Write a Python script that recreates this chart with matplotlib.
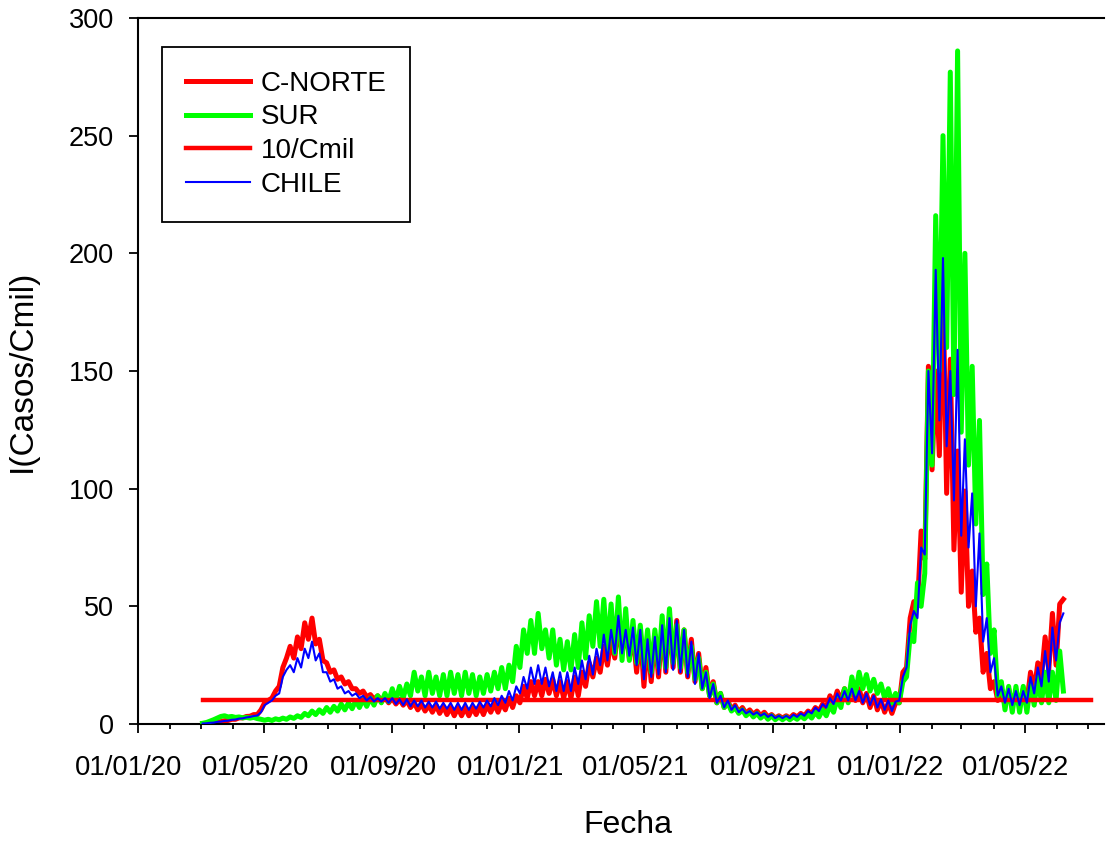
import datetime as dt
import matplotlib
matplotlib.use("Agg")
import matplotlib.pyplot as plt
import matplotlib.dates as mdates
import matplotlib.transforms as mtransforms

plt.rcParams['font.family'] = ['Liberation Sans', 'DejaVu Sans']

# ---- data (half-weekly readings, start 03/03/2020, every 3.5 days) ----
start_date = dt.datetime(2020, 3, 3)
step_days = 3.5

cnorte = [0.2, 0.3, 0.5, 0.6, 0.9, 1.0, 1.4, 1.5, 2.0, 2.0, 2.6, 2.6, 3.2, 3.3, 4.0, 4.0,
          6, 9, 10, 11, 14, 16, 24, 28,
          33, 28, 37, 32, 43, 36, 45, 34,
          36, 27, 26, 22, 23, 19, 20, 17,
          18, 15, 15, 13, 14, 11.5, 12.5, 10.5,
          12, 10, 11.5, 9, 11, 8.5, 10.5, 8,
          10, 7, 9, 6, 8.5, 5.5, 8, 5,
          8, 4.5, 7.5, 4, 7, 3.5, 7, 3.5,
          7, 3.5, 7, 4, 7.5, 4, 8, 5,
          8.5, 5, 9, 6, 11, 7, 12, 9,
          16, 11, 18, 12, 18, 12, 19, 13,
          19, 12, 18, 11, 18, 11, 20, 12,
          22, 16, 26, 20, 28, 22, 33, 25,
          36, 28, 42, 30, 40, 28, 38, 22,
          40, 16, 36, 18, 38, 20, 42, 22,
          46, 24, 44, 22, 40, 20, 36, 18,
          30, 15, 24, 12, 18, 9, 13, 7,
          10, 6, 8, 5, 7, 4.5, 6, 4,
          5.5, 3.5, 5, 3, 4, 2.5, 3.5, 2.5,
          3.5, 2.5, 4, 3, 4.5, 3.5, 5.5, 4.5,
          7, 5.5, 8.5, 7, 12, 9, 14, 10,
          15, 10, 16, 10, 15, 9, 13, 7,
          12, 6, 10, 5, 9, 4.5, 9, 9,
          22, 24, 45, 52, 50, 82, 70, 152,
          108, 150, 114, 186, 98, 155, 74, 116,
          56, 99, 50, 65, 39, 45, 22, 30,
          15, 18, 10, 15, 8, 15, 8, 14,
          8, 15, 9, 22, 14, 26, 20, 37,
          23, 47, 25, 51, 53]

sur = [0.3, 0.6, 1.2, 1.8, 2.5, 3.2, 3.5, 3.0, 3.2, 2.8, 3.0, 2.6, 2.8, 2.5, 2.8, 2.3,
       2.0, 1.6, 2.0, 1.5, 2.2, 1.8, 2.5, 2.0,
       3.0, 2.4, 3.5, 2.8, 4.5, 3.5, 5.5, 4,
       6, 4.5, 7, 5, 7.5, 5.5, 8.5, 6,
       9, 6.5, 10, 7, 10.5, 7.5, 11, 8,
       12, 9, 13, 9.5, 15, 10, 16, 11,
       17, 12, 22, 14, 20, 12, 22, 13,
       20, 12, 21, 12, 22, 13, 21, 12,
       22, 13, 21, 12, 20, 13, 21, 14,
       22, 15, 24, 15, 25, 18, 33, 24,
       40, 30, 44, 30, 47, 32, 40, 28,
       40, 25, 36, 23, 35, 23, 38, 24,
       43, 28, 46, 33, 52, 33, 53, 31,
       51, 30, 54, 27, 49, 27, 44, 26,
       42, 24, 40, 22, 40, 24, 46, 24,
       49, 26, 42, 24, 40, 22, 33, 19,
       28, 15, 22, 12, 17, 9, 13, 7,
       9, 5.5, 7, 4.5, 6, 3.5, 5, 3,
       4.5, 2.5, 4, 2, 3.5, 1.8, 3, 1.8,
       3, 1.8, 3, 2, 3.5, 2.2, 4, 2.5,
       5, 3, 6, 3.5, 8, 5, 11, 7,
       15, 9, 20, 13, 22, 15, 21, 14,
       19, 13, 17, 11, 15, 9, 13, 9,
       18, 20, 38, 35, 60, 50, 64, 150,
       110, 216, 150, 250, 160, 277, 140, 286,
       124, 200, 110, 152, 85, 129, 55, 68,
       30, 40, 12, 18, 6, 16, 5, 16,
       5, 16, 5, 17, 8, 20, 9, 22,
       9, 22, 10, 31, 14]

chile = [0.2, 0.3, 0.5, 0.6, 0.9, 1.0, 1.3, 1.4, 1.8, 1.9, 2.3, 2.4, 2.8, 3.0, 3.4, 3.6,
         5, 8, 9, 10, 12, 13, 20, 23,
         25, 22, 28, 24, 32, 28, 35, 27,
         30, 22, 22, 18, 19, 15, 16, 13,
         14, 12, 13, 11, 12, 10, 11.5, 9.5,
         11, 9.5, 11, 9, 11, 8.5, 10.5, 8,
         10.5, 7.5, 10, 7.5, 10, 7, 9.5, 7,
         9.5, 6.5, 9, 6.5, 9, 6, 9, 6,
         9, 6, 9, 6.5, 9.5, 7, 10, 7.5,
         11, 8, 12, 9, 14, 10, 16, 13,
         20, 15, 24, 17, 25, 17, 24, 16,
         22, 14, 22, 14, 22, 14, 24, 17,
         27, 19, 29, 21, 32, 25, 38, 27,
         40, 30, 46, 30, 40, 29, 41, 25,
         40, 19, 36, 20, 37, 21, 42, 22,
         45, 23, 44, 22, 40, 20, 35, 17,
         30, 15, 22, 11, 17, 9, 12, 7,
         10, 6, 8, 5, 6.5, 4.5, 5.5, 4,
         5, 3.5, 4.5, 3, 4, 2.5, 3.5, 2.5,
         3.5, 2.5, 4, 3, 4.5, 3.5, 5.5, 4.5,
         7, 5.5, 8.5, 7, 11, 8.5, 13, 10,
         14, 10, 15, 10, 14, 9, 13, 8,
         12, 7, 10.5, 6, 10, 5.5, 9.5, 10,
         20, 24, 42, 48, 45, 75, 72, 150,
         115, 193, 129, 198, 118, 150, 95, 159,
         80, 121, 75, 98, 50, 81, 35, 45,
         22, 28, 12, 16, 9, 15, 8, 14,
         8, 14, 9, 20, 13, 24, 16, 31,
         18, 41, 27, 43, 47]

threshold_value = 10
threshold_dates = [dt.datetime(2020, 3, 3), dt.datetime(2022, 7, 4)]

tick_dates = [dt.datetime(2020, 1, 1), dt.datetime(2020, 5, 1), dt.datetime(2020, 9, 1),
              dt.datetime(2021, 1, 1), dt.datetime(2021, 5, 1), dt.datetime(2021, 9, 1),
              dt.datetime(2022, 1, 1), dt.datetime(2022, 5, 1)]
y_ticks = [0, 50, 100, 150, 200, 250, 300]

dates = [start_date + dt.timedelta(days=step_days * i) for i in range(len(cnorte))]

# ---- figure ----
W, H = 1107, 842
fig = plt.figure(figsize=(W / 100, H / 100), dpi=100)
ax = fig.add_axes([138 / W, 1 - 724 / H, (1104 - 138) / W, (724 - 18) / H])

ax.plot(dates, cnorte, color='#ff0000', lw=3.6, label='C-NORTE', zorder=2,
        solid_joinstyle='round')
ax.plot(dates, sur, color='#00ff00', lw=3.6, label='SUR', zorder=3,
        solid_joinstyle='round')
ax.plot(threshold_dates, [threshold_value, threshold_value], color='#ff0000', lw=3.2,
        label='10/Cmil', zorder=4)
ax.plot(dates, chile, color='#0000ff', lw=1.5, label='CHILE', zorder=5,
        solid_joinstyle='round')

ax.set_xlim(dt.datetime(2020, 1, 1), dt.datetime(2022, 7, 16))
ax.set_ylim(0, 300)
ax.set_yticks(y_ticks)
ax.set_xticks(tick_dates)
ax.xaxis.set_major_formatter(mdates.DateFormatter('%d/%m/%y'))
ax.xaxis.set_minor_locator(mdates.MonthLocator())

ax.spines['right'].set_visible(False)
for s in ['left', 'bottom', 'top']:
    ax.spines[s].set_linewidth(1.5)

ax.tick_params(axis='y', which='major', direction='out', length=6.5, width=1.3,
               labelsize=19.5, pad=11)
ax.tick_params(axis='x', which='major', direction='out', length=6.5, width=1.3,
               labelsize=19.8, pad=16)
ax.tick_params(axis='x', which='minor', direction='out', length=3.5, width=1.3)
ax.tick_params(top=False, right=False)

shift = mtransforms.ScaledTranslation(-9 / 100, 0, fig.dpi_scale_trans)
for lab in ax.get_xticklabels():
    lab.set_transform(lab.get_transform() + shift)

fig.text(628 / W, 1 - 825 / H, 'Fecha', fontsize=23, ha='center', va='center')
fig.text(22 / W, 1 - 371 / H, 'I(Casos/Cmil)', fontsize=24, ha='center', va='center',
         rotation=90)

leg = ax.legend(loc='upper left', bbox_to_anchor=((162 - 138) / 966, (724 - 47) / 706),
                borderaxespad=0, fontsize=20, frameon=True, fancybox=False,
                edgecolor='black', framealpha=1, handlelength=2.3, handletextpad=0.4,
                labelspacing=0.28, borderpad=0.85)
leg.get_frame().set_linewidth(1.3)

fig.savefig('out.png', dpi=100)
